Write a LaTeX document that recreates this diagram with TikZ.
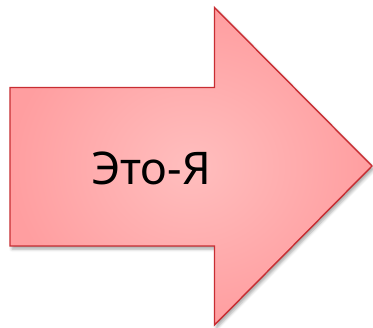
\documentclass[tikz,border=0pt]{standalone}
\usepackage{fontspec}
\setmainfont{Noto Sans}
\usetikzlibrary{shadows.blur}
\definecolor{arrowedge}{RGB}{200,45,50}
\definecolor{arrowin}{RGB}{255,190,190}
\definecolor{arrowout}{RGB}{255,158,160}
\tikzset{
  bigarrow/.style={draw=arrowedge, line width=1.4pt, line join=miter,
    inner color=arrowin, outer color=arrowout,
    blur shadow={shadow xshift=2pt, shadow yshift=-3pt, shadow blur radius=3pt, shadow opacity=35}},
  arrowtext/.style={font=\fontsize{45}{50}\selectfont, text=black, anchor=base, inner sep=0pt}
}
\begin{document}
\begin{tikzpicture}[x=1pt,y=-1pt]
\useasboundingbox (0,0) rectangle (373,328);
\coordinate (bl) at (10,246);
\coordinate (tl) at (10,87.5);
\coordinate (nt) at (214.5,87.5);
\coordinate (ht) at (214.5,7.5);
\coordinate (tip) at (372,166);
\coordinate (hb) at (214.5,325);
\coordinate (nb) at (214.5,246);
\path[bigarrow] (tl) -- (nt) -- (ht) -- (tip) -- (hb) -- (nb) -- (bl) -- cycle;
\node[arrowtext] (label) at (151,185) {Это-Я};
\end{tikzpicture}
\end{document}
